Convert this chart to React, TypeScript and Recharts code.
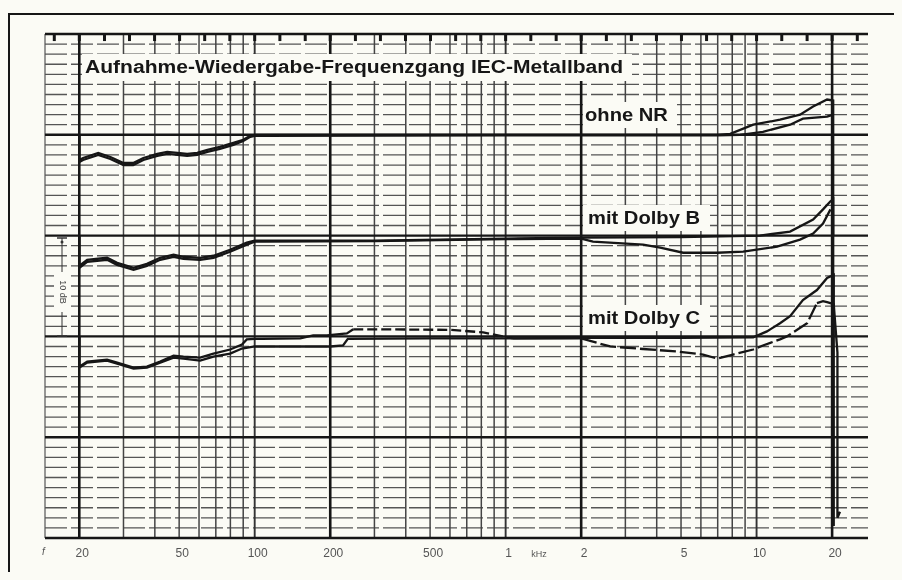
import React from "react";
import { LineChart, Line, XAxis, YAxis, ReferenceLine } from "recharts";

const FREQ_DOMAIN = [14.6, 27800];
const DB_DOMAIN = [0, 50];

// bottom labels (the "kHz" sits between 1 and 2 kHz)
const FREQ_TICKS = [20, 50, 100, 200, 500, 1000, 1320, 2000, 5000, 10000, 20000];
const FREQ_LABELS = ["20", "50", "100", "200", "500", "1", "kHz", "2", "5", "10", "20"];

// recorder paper marks along the top edge
const PEN_MARKS = [
  15.9, 20, 25.2, 31.7, 39.9, 50.2, 63.2, 79.6, 100, 126, 159, 200, 252, 317, 399, 502, 632, 796,
  1000, 1260, 1590, 2000, 2520, 3170, 3990, 5020, 6320, 7960, 10000, 12600, 15900, 20000, 25200,
];

const GRID_FREQS = [
  20, 30, 40, 50, 60, 70, 80, 90, 100, 200, 300, 400, 500, 600, 700, 800, 900, 1000, 2000, 3000,
  4000, 5000, 6000, 7000, 8000, 9000, 10000, 20000,
];
const MAJOR_FREQS = [20, 200, 2000, 20000];
const MID_FREQS = [100, 1000, 10000];

const GRID_DB = [
  1, 2, 3, 4, 5, 6, 7, 8, 9, 10, 11, 12, 13, 14, 15, 16, 17, 18, 19, 20, 21, 22, 23, 24, 25, 26,
  27, 28, 29, 30, 31, 32, 33, 34, 35, 36, 37, 38, 39, 40, 41, 42, 43, 44, 45, 46, 47, 48, 49,
];
const MAJOR_DB = [10, 20, 30, 40];

// [Hz, dB]; 0 dB references sit at 40 / 30 / 20
const OHNE_NR_A = [
  [20, 40], [20, 37.5], [20.7, 37.7], [23.8, 38.2], [26.6, 37.8], [30, 37.2], [32.8, 37.2],
  [36, 37.7], [40.9, 38.1], [44.8, 38.3], [49.2, 38.2], [53.8, 38.1], [59, 38.2], [64.8, 38.5],
  [72.7, 38.8], [82.2, 39.2], [90, 39.5], [96, 39.9], [100, 40], [1000, 40], [7000, 40],
  [7850, 40.1], [9700, 41.0], [12400, 41.5], [14900, 42.0], [16800, 42.8], [19100, 43.5],
  [20200, 43.4], [20200, 30],
];
const OHNE_NR_B = [
  [20, 40], [20, 37.3], [20.7, 37.5], [23.8, 38.0], [26.6, 37.6], [30, 37.0], [32.8, 37.0],
  [36, 37.5], [40.9, 37.9], [44.8, 38.1], [49.2, 38.0], [53.8, 37.9], [59, 38.0], [64.8, 38.3],
  [72.7, 38.6], [82.2, 39.0], [90, 39.4], [96, 39.8], [100, 39.9], [1000, 39.95], [7000, 39.95],
  [8600, 40.0], [10600, 40.3], [13600, 41.0], [15300, 41.6], [19100, 41.8], [20200, 42.0],
];

const DOLBY_B_A = [
  [20, 30], [20, 27.0], [21.5, 27.6], [25.8, 27.8], [28.3, 27.3], [32.9, 26.8], [37.2, 27.2],
  [42, 27.8], [47.5, 28.1], [52, 27.9], [60.6, 27.8], [68.5, 28.0], [79.8, 28.6], [93, 29.3],
  [100, 29.5], [300, 29.5], [1000, 29.7], [2000, 29.8], [5000, 29.85], [10300, 30.0],
  [13600, 30.4], [16800, 31.6], [18400, 32.6], [19700, 33.4], [20200, 33.6], [20200, 20],
];
const DOLBY_B_B = [
  [20, 30], [20, 26.8], [21.5, 27.4], [25.8, 27.6], [28.3, 27.1], [32.9, 26.6], [37.2, 27.0],
  [42, 27.6], [47.5, 27.9], [52, 27.7], [60.6, 27.6], [68.5, 27.8], [79.8, 28.4], [93, 29.1],
  [100, 29.4], [300, 29.45], [1000, 29.65], [2000, 29.7], [2230, 29.4], [3530, 29.1],
  [4130, 28.8], [5100, 28.3], [6970, 28.3], [8840, 28.4], [12070, 28.9], [14900, 29.6],
  [16800, 30.2], [18400, 31.2], [19700, 32.6],
];

// Dolby C, upper trace: solid, a dashed stretch 250 Hz - 1 kHz, solid again
const DOLBY_C_A_LOW = [
  [20, 20], [20, 17.0], [21.5, 17.5], [25.8, 17.7], [28.3, 17.4], [32.9, 16.9], [37.2, 17.0],
  [42, 17.5], [47.5, 18.1], [52, 18.0], [60.6, 17.9], [68.5, 18.3], [79.8, 18.7], [89, 19.2],
  [93, 19.7], [100, 19.75], [152, 19.8], [171, 20.1], [194, 20.1], [233, 20.3], [247, 20.7],
];
const DOLBY_C_A_MID = [[247, 20.7], [316, 20.7], [601, 20.65], [814, 20.4], [1070, 19.8]];
const DOLBY_C_A_HIGH = [
  [1070, 19.8], [2000, 19.85], [5000, 19.85], [9700, 19.9], [11000, 20.5], [12400, 21.3],
  [13600, 22.0], [15300, 23.6], [17400, 24.6], [19100, 25.8], [20300, 26.1], [20300, 1.2],
];
// Dolby C, lower trace: solid up to 2 kHz, dashed dip and rise, solid end
const DOLBY_C_B_LOW = [
  [20, 20], [20, 16.9], [21.5, 17.4], [25.8, 17.6], [28.3, 17.3], [32.9, 16.8], [37.2, 16.9],
  [42, 17.4], [47.5, 17.9], [52, 17.8], [60.6, 17.6], [68.5, 18.0], [79.8, 18.3], [89, 18.8],
  [100, 19.0], [152, 19.0], [200, 19.0], [225, 19.1], [235, 19.75], [500, 19.8], [2000, 19.8],
];
const DOLBY_C_B_HIGH = [
  [2000, 19.8], [2610, 19.0], [3530, 18.75], [4830, 18.5], [6120, 18.2], [6970, 17.8],
  [8070, 18.2], [9700, 18.7], [10600, 19.1], [12400, 19.7], [13200, 20.0], [15900, 21.3],
  [17400, 23.3],
];
const DOLBY_C_B_END = [
  [17400, 23.3], [18400, 23.5], [19100, 23.4], [20300, 23.2], [21000, 18.4], [21000, 2.0],
  [21500, 2.6],
];

const TRACES = [
  { name: "ohne NR A", pts: OHNE_NR_A, dash: undefined },
  { name: "ohne NR B", pts: OHNE_NR_B, dash: undefined },
  { name: "Dolby B A", pts: DOLBY_B_A, dash: undefined },
  { name: "Dolby B B", pts: DOLBY_B_B, dash: undefined },
  { name: "Dolby C A low", pts: DOLBY_C_A_LOW, dash: undefined },
  { name: "Dolby C A mid", pts: DOLBY_C_A_MID, dash: "10 4" },
  { name: "Dolby C A high", pts: DOLBY_C_A_HIGH, dash: undefined },
  { name: "Dolby C B low", pts: DOLBY_C_B_LOW, dash: undefined },
  { name: "Dolby C B high", pts: DOLBY_C_B_HIGH, dash: "16 4" },
  { name: "Dolby C B end", pts: DOLBY_C_B_END, dash: undefined },
];

const PAPER = "#fbfbf5";
const INK = "#161616";
const FONT = "'Liberation Sans', Arial, sans-serif";

const toPoints = (arr: number[][]) => arr.map(([f, v]) => ({ f, v }));

function FreqTick({ x, y, payload }: any) {
  const i = FREQ_TICKS.indexOf(payload.value);
  const label = FREQ_LABELS[i] ?? "";
  const small = label === "kHz";
  return (
    <text
      x={x + 3}
      y={y + 19}
      textAnchor="middle"
      fontSize={small ? 9 : 12}
      fill="#555"
      fontFamily={FONT}
    >
      {label}
    </text>
  );
}

function Tag({ left, top, width, text, pad }: { left: number; top: number; width: number; text: string; pad: number }) {
  return (
    <div
      style={{
        position: "absolute",
        left,
        top,
        width,
        height: 26,
        background: PAPER,
        paddingLeft: pad,
        boxSizing: "border-box",
        lineHeight: "26px",
        whiteSpace: "nowrap",
      }}
    >
      <span
        style={{
          display: "inline-block",
          fontFamily: FONT,
          fontWeight: "bold",
          fontSize: 18,
          color: INK,
          transform: "scaleX(1.12)",
          transformOrigin: "left center",
        }}
      >
        {text}
      </span>
    </div>
  );
}

export default function App() {
  return (
    <>
      <div style={{ position: "fixed", inset: 0, background: PAPER, zIndex: -1 }} />
      <div style={{ position: "relative", width: 886, height: 564 }}>
        <div
          style={{
            position: "absolute",
            left: 0,
            top: 5,
            width: 892,
            height: 580,
            borderTop: `2.5px solid ${INK}`,
            borderLeft: `2.5px solid ${INK}`,
            boxSizing: "border-box",
          }}
        />
        <LineChart width={886} height={564} margin={{ top: 26, right: 26, bottom: 4, left: 37 }}>
          <XAxis
            xAxisId="b"
            type="number"
            dataKey="f"
            scale="log"
            domain={FREQ_DOMAIN}
            allowDataOverflow
            ticks={FREQ_TICKS}
            interval={0}
            tick={<FreqTick />}
            tickLine={false}
            tickSize={0}
            tickMargin={0}
            height={30}
            axisLine={{ stroke: INK, strokeWidth: 2.5 }}
          />
          <YAxis type="number" domain={DB_DOMAIN} hide allowDataOverflow />
          <ReferenceLine xAxisId="b" x={FREQ_DOMAIN[0]} stroke="#555" strokeWidth={1.2} />
          {GRID_DB.filter((d) => !MAJOR_DB.includes(d)).map((d) => (
            <ReferenceLine
              key={"h" + d}
              xAxisId="b"
              y={d}
              stroke="#555"
              strokeWidth={1.3}
              strokeDasharray="22 4"
            />
          ))}
          {GRID_FREQS.map((f) => (
            <ReferenceLine
              key={"v" + f}
              xAxisId="b"
              x={f}
              stroke={MAJOR_FREQS.includes(f) ? INK : MID_FREQS.includes(f) ? "#333" : "#444"}
              strokeWidth={MAJOR_FREQS.includes(f) ? 2.6 : MID_FREQS.includes(f) ? 1.9 : 1.5}
            />
          ))}
          {MAJOR_DB.map((d) => (
            <ReferenceLine key={"m" + d} xAxisId="b" y={d} stroke={INK} strokeWidth={2.4} />
          ))}
          <ReferenceLine xAxisId="b" y={DB_DOMAIN[1]} stroke={INK} strokeWidth={2.6} />
          {PEN_MARKS.map((f) => (
            <ReferenceLine
              key={"p" + f}
              xAxisId="b"
              segment={[
                { x: f, y: DB_DOMAIN[1] },
                { x: f, y: DB_DOMAIN[1] - 0.7 },
              ]}
              stroke={INK}
              strokeWidth={3}
            />
          ))}
          {TRACES.map((t) => (
            <Line
              key={t.name}
              name={t.name}
              xAxisId="b"
              data={toPoints(t.pts)}
              dataKey="v"
              type="linear"
              stroke={INK}
              strokeWidth={2.3}
              strokeDasharray={t.dash}
              dot={false}
              isAnimationActive={false}
            />
          ))}
        </LineChart>

        <div
          style={{
            position: "absolute",
            left: 74,
            top: 46,
            width: 550,
            height: 27,
            background: PAPER,
            paddingLeft: 3,
            boxSizing: "border-box",
            lineHeight: "27px",
            whiteSpace: "nowrap",
          }}
        >
          <span
            style={{
              display: "inline-block",
              fontFamily: FONT,
              fontWeight: "bold",
              fontSize: 18,
              color: INK,
              transform: "scaleX(1.17)",
              transformOrigin: "left center",
            }}
          >
            Aufnahme-Wiedergabe-Frequenzgang IEC-Metallband
          </span>
        </div>
        <Tag left={575} top={94} width={94} text="ohne NR" pad={2} />
        <Tag left={575} top={197} width={127} text="mit Dolby B" pad={5} />
        <Tag left={575} top={297} width={127} text="mit Dolby C" pad={5} />

        <svg
          style={{ position: "absolute", left: 40, top: 224, overflow: "visible" }}
          width={30}
          height={110}
        >
          <rect x={6} y={42} width={16} height={36} fill={PAPER} />
          <line x1={14} y1={6} x2={14} y2={40} stroke="#333" strokeWidth={1} />
          <line x1={14} y1={80} x2={14} y2={104} stroke="#333" strokeWidth={1} />
          <line x1={9} y1={6} x2={19} y2={6} stroke="#333" strokeWidth={1.5} />
          <line x1={9} y1={104} x2={19} y2={104} stroke="#333" strokeWidth={1.5} />
          <circle cx={14} cy={10} r={1.5} fill="#333" />
          <text
            x={14}
            y={60}
            transform="rotate(90 14 60)"
            textAnchor="middle"
            dominantBaseline="middle"
            fontSize={9}
            fill="#444"
            fontFamily={FONT}
          >
            10 dB
          </text>
        </svg>
        <div
          style={{
            position: "absolute",
            left: 34,
            top: 538,
            fontFamily: FONT,
            fontStyle: "italic",
            fontSize: 10,
            color: "#555",
          }}
        >
          f
        </div>
      </div>
    </>
  );
}
